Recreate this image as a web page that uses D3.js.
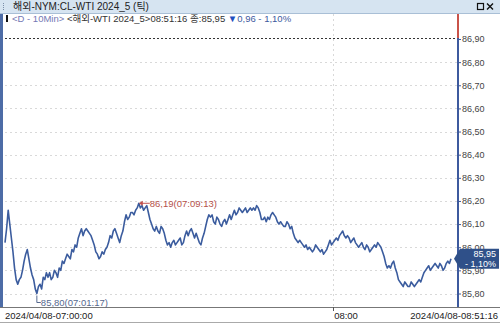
<!doctype html>
<html>
<head>
<meta charset="UTF-8">
<title>WTI tick</title>
<script src="https://d3js.org/d3.v7.min.js"></script>
<style>
  body { margin: 0; background: #fff; }
  svg { display: block; }
  text { font-family: "Liberation Sans", "Noto Sans CJK KR", sans-serif; }
</style>
</head>
<body>
<svg id="chart" width="500" height="324"></svg>
<script>
// tick prices
var prices = [
  86.02, 86.08, 86.16, 86.10, 86.04, 85.98, 85.91, 85.86, 85.84, 85.86,
  85.87, 85.90, 85.94, 85.97, 85.99, 85.95, 85.91, 85.88, 85.86, 85.82,
  85.80, 85.83, 85.84, 85.82, 85.87, 85.86, 85.89, 85.87, 85.89, 85.86,
  85.87, 85.90, 85.89, 85.87, 85.91, 85.90, 85.94, 85.93, 85.95, 85.97,
  85.96, 85.95, 85.99, 85.98, 86.01, 86.00, 86.04, 86.06, 86.08, 86.05,
  86.07, 86.08, 86.07, 86.06, 86.05, 86.03, 86.01, 85.98, 85.97, 85.95,
  85.96, 85.98, 85.97, 85.99, 86.00, 86.02, 86.05, 86.04, 86.07, 86.08,
  86.06, 86.04, 86.02, 86.05, 86.07, 86.11, 86.14, 86.12, 86.13, 86.15,
  86.15, 86.14, 86.16, 86.17, 86.19, 86.17, 86.18, 86.16, 86.17, 86.18,
  86.15, 86.12, 86.10, 86.08, 86.07, 86.09, 86.07, 86.06, 86.09, 86.08,
  86.06, 86.03, 86.01, 86.02, 86.00, 86.02, 86.03, 86.01, 86.02, 86.03,
  86.04, 86.01, 86.02, 86.05, 86.07, 86.05, 86.07, 86.08, 86.06, 86.04,
  86.06, 86.04, 86.02, 86.01, 86.04, 86.06, 86.09, 86.12, 86.14, 86.13,
  86.14, 86.11, 86.10, 86.13, 86.12, 86.10, 86.09, 86.11, 86.12, 86.10,
  86.12, 86.14, 86.12, 86.14, 86.16, 86.14, 86.15, 86.17, 86.16, 86.15,
  86.16, 86.17, 86.15, 86.16, 86.17, 86.16, 86.17, 86.16, 86.18, 86.17,
  86.15, 86.12, 86.12, 86.13, 86.11, 86.13, 86.12, 86.14, 86.15, 86.14,
  86.13, 86.11, 86.10, 86.11, 86.10, 86.09, 86.09, 86.11, 86.10, 86.08,
  86.09, 86.06, 86.04, 86.03, 86.02, 86.03, 86.02, 86.01, 86.00, 86.01,
  85.99, 86.00, 85.99, 85.98, 85.99, 86.01, 86.00, 85.99, 85.98, 85.99,
  85.97, 85.98, 85.99, 86.01, 86.03, 86.01, 86.02, 86.03, 86.04, 86.03,
  86.05, 86.06, 86.07, 86.05, 86.04, 86.05, 86.04, 86.02, 86.03, 86.04,
  86.02, 86.01, 86.00, 86.01, 86.02, 86.00, 85.99, 86.01, 86.00, 85.98,
  85.99, 86.00, 86.01, 86.00, 86.02, 86.01, 86.00, 85.98, 85.96, 85.93,
  85.91, 85.92, 85.91, 85.93, 85.94, 85.91, 85.89, 85.86, 85.85, 85.84,
  85.83, 85.85, 85.84, 85.83, 85.83, 85.85, 85.84, 85.83, 85.84, 85.85,
  85.86, 85.85, 85.87, 85.89, 85.90, 85.91, 85.92, 85.90, 85.91, 85.92,
  85.93, 85.92, 85.91, 85.93, 85.92, 85.90, 85.91, 85.93, 85.94, 85.93,
  85.95
];
var yTicks = [85.80, 85.90, 86.00, 86.10, 86.20, 86.30, 86.40, 86.50, 86.60, 86.70, 86.80, 86.90];
var xTickIdx = [0, 206, 280];
var xTickLabels = ["2024/04/08-07:00:00", "08:00", "2024/04/08-08:51:16"];
var lowIdx = 20, lowText = "85,80(07:01:17)";
var highIdx = 84, highText = "86,19(07:09:13)";
var title = "해외-NYM:CL-WTI 2024_5 (틱)";
var lastPrice = 85.95, lastPct = "- 1,10%";

var svg = d3.select("#chart");
var W = 500, H = 324;
var axisX = 458, plotTop = 38, plotBottom = 307;

var x = d3.scaleLinear().domain([0, prices.length - 1]).range([5, 451]);
var y = d3.scaleLinear().domain([85.80, 86.90]).range([293.5, 39]);
var fmt = function (v) { return d3.format(".2f")(v).replace(".", ","); };

// title bar
svg.append("rect").attr("x", 0).attr("y", 0).attr("width", W).attr("height", 13).attr("fill", "#d6e4f1");
svg.append("line").attr("x1", 0).attr("x2", W).attr("y1", 13.5).attr("y2", 13.5).attr("stroke", "#a9bfd6");
for (var i = 0; i < 4; i++) {
  svg.append("rect").attr("x", 3).attr("y", 3 + i * 2).attr("width", 1).attr("height", 1).attr("fill", "#7a8ea8");
}
svg.append("text").attr("x", 13).attr("y", 10).attr("font-size", 10).attr("fill", "#222").text(title);
svg.append("rect").attr("x", 477.5).attr("y", 3.5).attr("width", 6).attr("height", 6)
  .attr("fill", "none").attr("stroke", "#111").attr("stroke-width", 1.2);
svg.append("path").attr("d", "M487,3.5L493,9.5M493,3.5L487,9.5").attr("stroke", "#111").attr("stroke-width", 1.4);

// info line
svg.append("rect").attr("x", 6).attr("y", 15).attr("width", 2).attr("height", 7).attr("fill", "#111");
var info = svg.append("text").attr("x", 12).attr("y", 22).attr("font-size", 9.5);
info.append("tspan").attr("fill", "#7478b4").text("<D - 10Min> ");
info.append("tspan").attr("fill", "#333").text("<해외-WTI 2024_5>08:51:16 종:85,95 ");
info.append("tspan").attr("fill", "#1f4fbf").text("▼");
info.append("tspan").attr("fill", "#3d5a9e").text("0,96 - 1,10%");

// left border
svg.append("rect").attr("x", 0).attr("y", 14).attr("width", 3).attr("height", plotBottom - 14).attr("fill", "#4d6ca6");

// grid
svg.append("g").selectAll("line").data(yTicks.slice(0, -1)).enter().append("line")
  .attr("x1", 5).attr("x2", axisX)
  .attr("y1", function (d) { return Math.round(y(d)) + 0.5; })
  .attr("y2", function (d) { return Math.round(y(d)) + 0.5; })
  .attr("stroke", "#d9d9d9").attr("stroke-dasharray", "2,3");
svg.append("line").attr("x1", Math.round(x(xTickIdx[1])) + 0.5).attr("x2", Math.round(x(xTickIdx[1])) + 0.5)
  .attr("y1", 14).attr("y2", plotBottom).attr("stroke", "#d9d9d9").attr("stroke-dasharray", "2,3");
svg.append("line").attr("x1", 5).attr("x2", axisX).attr("y1", plotTop + 0.5).attr("y2", plotTop + 0.5)
  .attr("stroke", "#333").attr("stroke-dasharray", "2,2");

// right axis
var yAxis = d3.axisRight(y).tickValues(yTicks).tickSize(3).tickFormat(fmt);
var ga = svg.append("g").attr("transform", "translate(" + axisX + ",0)").call(yAxis);
ga.select(".domain").remove();
ga.selectAll("line").attr("stroke", "#3d5a9e");
ga.selectAll("text").attr("x", 4).attr("font-size", 9).attr("fill", "#444")
  .attr("font-family", "Liberation Sans");
svg.append("line").attr("x1", axisX).attr("x2", axisX).attr("y1", plotTop).attr("y2", plotBottom)
  .attr("stroke", "#3d5a9e").attr("stroke-width", 2);
svg.append("line").attr("x1", axisX).attr("x2", axisX).attr("y1", 14).attr("y2", plotTop)
  .attr("stroke", "#c9534a").attr("stroke-width", 2);

// bottom axis
svg.append("line").attr("x1", 0).attr("x2", W).attr("y1", plotBottom + 0.5).attr("y2", plotBottom + 0.5).attr("stroke", "#777");
svg.append("line").attr("x1", 0).attr("x2", W).attr("y1", 322.5).attr("y2", 322.5).attr("stroke", "#aaa");
svg.append("line").attr("x1", Math.round(x(xTickIdx[1])) + 0.5).attr("x2", Math.round(x(xTickIdx[1])) + 0.5)
  .attr("y1", plotBottom).attr("y2", plotBottom + 4).attr("stroke", "#555");
svg.append("g").selectAll("text").data(xTickIdx).enter().append("text")
  .attr("x", function (d, i) { return i == 0 ? 5 : (i == 2 ? 498 : x(d) + 1); })
  .attr("y", 319)
  .attr("text-anchor", function (d, i) { return i == 2 ? "end" : "start"; })
  .attr("font-size", 9.5).attr("fill", "#222")
  .text(function (d, i) { return xTickLabels[i]; });

// price line
var line = d3.line().x(function (d, i) { return x(i); }).y(function (d) { return y(d); });
svg.append("path").datum(prices).attr("d", line).attr("fill", "none")
  .attr("stroke", "#3b5c9e").attr("stroke-width", 1.6).attr("stroke-linejoin", "round");

// high / low marks
var hx = x(highIdx), hy = y(prices[highIdx]);
svg.append("path").attr("d", "M" + hx + "," + hy + "l4,-2.5v5z").attr("fill", "#c0504d");
svg.append("line").attr("x1", hx + 3).attr("x2", hx + 11).attr("y1", hy).attr("y2", hy).attr("stroke", "#c0504d");
svg.append("text").attr("x", hx + 11).attr("y", hy + 3.5).attr("font-size", 9.5).attr("fill", "#b5524a").text(highText);

var lx = x(lowIdx), ly = y(prices[lowIdx]);
svg.append("path").attr("d", "M" + lx + "," + (ly + 2) + "v7h4").attr("fill", "none").attr("stroke", "#56698f");
svg.append("text").attr("x", lx + 4).attr("y", ly + 12.5).attr("font-size", 9.5).attr("fill", "#56698f").text(lowText);

// last price tag
var ty = y(lastPrice);
svg.append("path").attr("d", "M454," + ty + "L460," + (ty - 10) + "H499V" + (ty + 10) + "H460Z").attr("fill", "#2f5089");
svg.append("text").attr("x", 496).attr("y", ty - 1.5).attr("text-anchor", "end").attr("font-size", 9).attr("fill", "#fff").text(fmt(lastPrice));
svg.append("text").attr("x", 496).attr("y", ty + 8).attr("text-anchor", "end").attr("font-size", 9).attr("fill", "#fff").text(lastPct);
</script>
</body>
</html>
